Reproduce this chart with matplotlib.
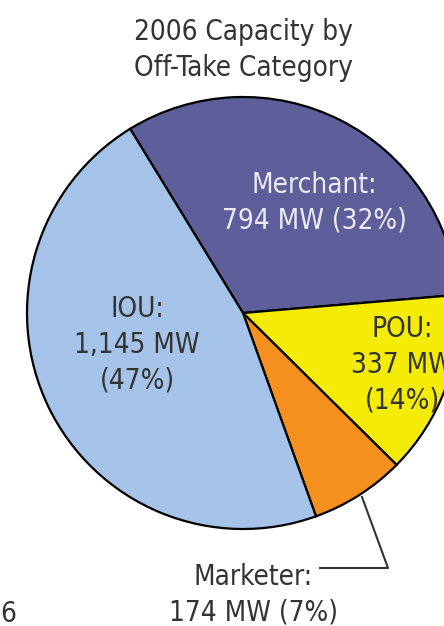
import matplotlib.pyplot as plt

# data
categories = ['Merchant', 'POU', 'Marketer', 'IOU']
capacity_mw = [794, 337, 174, 1145]
percents = [32, 14, 7, 47]
colors = ['#5e5e9a', '#f4eb07', '#f5901e', '#a5c3e8']

plt.rcParams['font.family'] = ['DejaVu Sans']
plt.rcParams['font.stretch'] = 'condensed'

fig = plt.figure(figsize=(4.44, 6.26), dpi=100)
ax = fig.add_axes([0, 0, 1, 1])

cx, cy, r = 243, 313, 216
ax.pie(capacity_mw, colors=colors, startangle=121.5, counterclock=False,
       center=(cx, cy), radius=r, frame=True,
       wedgeprops=dict(edgecolor='black', linewidth=1.6))
ax.set_xlim(0, 444)
ax.set_ylim(0, 626)
ax.set_aspect('equal')
ax.axis('off')

fs = 20
dark = '#333333'
ls = 1.35
ax.text(243, 626 - 50, '2006 Capacity by\nOff-Take Category', ha='center', va='center',
        fontsize=fs, color=dark, linespacing=ls)

ax.text(314, 626 - 203, f'{categories[0]}:\n{capacity_mw[0]} MW ({percents[0]}%)',
        ha='center', va='center', fontsize=fs, color='#ececf2', linespacing=ls)
ax.text(137, 626 - 345, f'{categories[3]}:\n{capacity_mw[3]:,} MW\n({percents[3]}%)',
        ha='center', va='center', fontsize=fs, color=dark, linespacing=ls)
ax.text(402, 626 - 365, f'{categories[1]}:\n{capacity_mw[1]} MW\n({percents[1]}%)',
        ha='center', va='center', fontsize=fs, color=dark, linespacing=ls)
ax.text(253, 626 - 595, f'{categories[2]}:\n{capacity_mw[2]} MW ({percents[2]}%)',
        ha='center', va='center', fontsize=fs, color=dark, linespacing=ls)

# leader line for Marketer
ax.plot([362, 388, 320], [626 - 497, 626 - 568, 626 - 568], color=dark, linewidth=1.5)

ax.text(8, 626 - 614, '6', ha='center', va='center', fontsize=fs, color=dark)

fig.savefig('out.png', dpi=100)
